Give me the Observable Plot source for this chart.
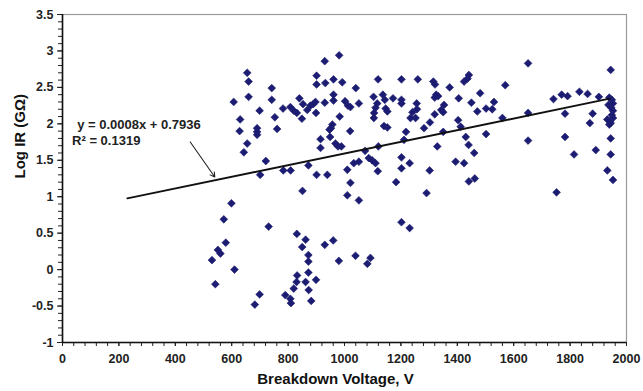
<!DOCTYPE html>
<html>
<head>
<meta charset="utf-8">
<script src="https://cdn.jsdelivr.net/npm/d3@7"></script>
<script src="https://cdn.jsdelivr.net/npm/@observablehq/plot@0.6"></script>
<style>
  html, body { margin: 0; padding: 0; background: #fff; }
  #chart svg { display: block; }
</style>
</head>
<body>
<div id="chart"></div>
<script>
// Breakdown voltage (V)
const voltage = [
  530,542,551,560,572,579,599,610,699,682,731,
  607,655,660,660,630,628,655,643,699,690,690,690,721,701,742,742,753,761,782,783,809,
  808,820,831,840,853,849,868,879,889,897,899,901,901,872,901,851,915,915,
  831,862,850,872,872,872,832,830,862,899,820,873,790,808,810,882,
  930,981,932,961,992,1040,930,961,961,1002,1012,1021,1051,983,957,952,947,1020,949,968,977,989,
  939,1010,1033,1051,1073,1086,1098,1110,1118,1021,1010,1051,
  1119,1103,1136,1143,1116,1110,1105,1104,1146,1152,1172,1202,1202,1202,1140,1152,1120,
  1218,1211,1202,1202,1231,1183,1234,1256,1202,1231,930,960,980,1039,1092,1081,
  1260,1257,1241,1252,1315,1321,1325,1332,1320,1353,1350,1343,1320,1303,1282,1350,1329,
  1373,1405,1424,1436,1441,1450,1481,1471,1502,1524,1530,1403,1412,1430,1440,1460,1502,
  1560,1570,1651,1651,1651,1302,1394,1424,1441,1462,1291,
  1741,1770,1791,1782,1782,1814,1833,1862,1902,1880,1870,1891,
  1944,1939,1948,1952,1936,1946,1952,1948,1932,1952,1944,1939,1944,1944,1932,1952,1752
];
// Log IR (GOhm)
const logIR = [
  0.13,-0.20,0.27,0.22,0.69,0.37,0.91,0.00,-0.34,-0.48,0.59,
  2.30,2.70,2.58,2.37,2.06,1.90,1.73,1.61,2.18,1.94,1.89,1.85,1.49,1.30,2.49,2.33,2.09,1.93,2.21,1.36,1.36,
  2.23,2.18,2.15,2.35,2.27,2.07,2.19,2.25,2.27,2.30,2.15,2.66,2.54,1.43,1.30,1.08,1.79,1.67,
  0.49,0.41,0.31,0.20,0.11,-0.04,-0.08,-0.17,-0.17,-0.14,-0.26,-0.28,-0.35,-0.40,-0.46,-0.43,
  2.86,2.94,2.56,2.61,2.57,2.49,2.29,2.40,2.32,2.31,2.25,2.23,2.28,2.10,1.99,1.94,1.92,1.90,1.82,1.73,1.69,1.69,
  1.30,1.37,1.46,1.48,1.63,1.53,1.50,1.46,1.35,1.19,1.02,0.95,
  2.61,2.37,2.40,2.33,2.28,2.22,2.15,2.08,2.21,2.17,2.35,2.61,2.33,2.28,1.97,1.95,1.69,
  1.89,1.78,1.54,1.39,1.46,1.20,2.08,2.28,0.65,0.57,0.34,0.40,0.12,0.19,0.16,0.08,
  2.61,2.20,2.16,2.08,2.58,2.54,2.40,2.38,2.36,2.26,2.16,2.19,2.13,2.02,1.94,1.89,1.69,
  2.50,2.35,2.58,2.62,2.67,2.29,2.42,2.17,2.21,2.20,2.30,2.05,1.96,1.82,1.71,1.60,1.86,
  2.08,2.53,2.83,2.15,1.77,1.36,1.48,1.46,1.21,1.25,1.05,
  2.34,2.40,2.38,2.14,1.82,1.58,2.44,2.41,2.37,2.14,2.01,1.64,
  2.74,2.36,2.33,2.28,2.26,2.22,2.18,2.12,2.06,2.08,2.01,1.99,1.80,1.58,1.36,1.23,1.06
];
// Trendline (as printed on the chart)
const slope = 0.0008;
const intercept = 0.7936;
const trendRange = [230, 1940];
const eqText = "y = 0.0008x + 0.7936";
const r2Text = "R² = 0.1319";

const xTicks = [0, 200, 400, 600, 800, 1000, 1200, 1400, 1600, 1800, 2000];
const xMinor = d3.range(0, 2001, 40);
const yTicks = [-1, -0.5, 0, 0.5, 1, 1.5, 2, 2.5, 3, 3.5];
const yMinor = d3.range(-10, 36, 1).map(d => d / 10);

const points = voltage.map((v, i) => ({v, y: logIR[i]}));
const trend = trendRange.map(v => ({v, y: slope * v + intercept}));

const font = "'Liberation Sans', Arial, sans-serif";

const chart = Plot.plot({
  width: 643,
  height: 391,
  marginLeft: 62,
  marginRight: 17,
  marginTop: 14,
  marginBottom: 49,
  style: {fontFamily: font, fontSize: "12.5px", fontWeight: "bold", color: "#222", background: "#fff"},
  x: {domain: [0, 2000]},
  y: {domain: [-1, 3.5]},
  marks: [
    Plot.frame({stroke: "#9a9a9a", strokeWidth: 1.2}),
    Plot.axisX({ticks: xMinor, tickSize: 4, text: null, label: null, stroke: "#222"}),
    Plot.axisX({ticks: xTicks, tickSize: 4, tickPadding: 8, label: null, fill: "#222", stroke: "#222", fontSize: 12.5, tickFormat: d => String(d)}),
    Plot.axisY({ticks: yMinor, tickSize: 4, text: null, label: null, stroke: "#222"}),
    Plot.axisY({ticks: yTicks, tickSize: 5, tickPadding: 4, label: null, fill: "#222", stroke: "#222", fontSize: 12.5, tickFormat: d => String(d)}),
    Plot.ruleX([0], {stroke: "#111", strokeWidth: 1.6}),
    Plot.ruleY([-1], {stroke: "#111", strokeWidth: 1.6}),
    Plot.dot(points, {x: "v", y: "y", symbol: "diamond2", r: 3.5, fill: "#1c1c72", stroke: "#1c1c72", strokeWidth: 0.6}),
    Plot.line(trend, {x: "v", y: "y", stroke: "#111", strokeWidth: 2}),
    Plot.arrow([{x1: 453, y1: 1.75, x2: 540, y2: 1.27}], {x1: "x1", y1: "y1", x2: "x2", y2: "y2", stroke: "#222", strokeWidth: 1.1, headLength: 7}),
    Plot.text([eqText], {x: 52, y: 1.98, text: d => d, textAnchor: "start", fontSize: 13, fontWeight: "bold", fill: "#222"}),
    Plot.text([r2Text], {x: 34, y: 1.77, text: d => d, textAnchor: "start", fontSize: 13, fontWeight: "bold", fill: "#222"}),
    Plot.text(["Log IR (GΩ)"], {frameAnchor: "left", dx: -42, rotate: -90, text: d => d, fontSize: 15, fontWeight: "bold", fill: "#111"}),
    Plot.text(["Breakdown Voltage, V"], {frameAnchor: "bottom", dy: 41, dx: -9, text: d => d, fontSize: 15, fontWeight: "bold", fill: "#111"})
  ]
});
document.getElementById("chart").appendChild(chart);
</script>
</body>
</html>
